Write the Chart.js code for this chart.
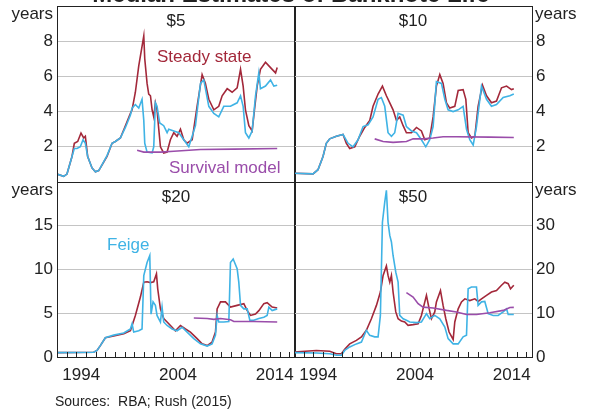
<!DOCTYPE html>
<html>
<head>
<meta charset="utf-8">
<script src="https://cdn.jsdelivr.net/npm/chart.js@4.4.1/dist/chart.umd.min.js"></script>
<style>
  html, body { margin: 0; padding: 0; background: #fff; }
  #wrap { position: relative; width: 589px; height: 413px; overflow: hidden; }
  canvas { position: absolute; left: 0; top: 0; }
  .txt { position: absolute; font-family: "Liberation Sans", Arial, sans-serif; color: #222; white-space: nowrap; }
  #title { left: 0; width: 582px; top: -18px; text-align: center; font-weight: bold; font-size: 24px; line-height: 24px; }
  #sources { left: 55px; top: 394px; font-size: 14px; line-height: 14px; }
</style>
</head>
<body>
<div id="wrap">
  <canvas id="c5" width="589" height="413"></canvas>
  <canvas id="c10" width="589" height="413"></canvas>
  <canvas id="c20" width="589" height="413"></canvas>
  <canvas id="c50" width="589" height="413"></canvas>
  <div class="txt" id="title">Median Estimates of Banknote Life</div>
  <div class="txt" id="sources">Sources:&nbsp;&nbsp;RBA; Rush (2015)</div>
</div>
<script>
// series: [year, years of life]
const steady5 = [
  [1992.00,0.45],[1992.69,0.32],[1993.03,0.45],[1993.55,1.45],[1993.79,2.2],[1994.14,2.3],[1994.48,2.78],[1994.76,2.5],
  [1994.93,2.6],[1995.17,1.45],[1995.62,0.8],[1995.97,0.58],[1996.31,0.65],[1996.48,0.8],[1997.17,1.45],[1997.69,2.2],
  [1998.03,2.3],[1998.55,2.5],[1999.07,3.2],[1999.59,3.9],[1999.76,4.1],[2000.10,5.1],[2000.45,6.6],[2000.79,7.7],
  [2000.97,8.3],[2001.07,7.0],[2001.31,5.6],[2001.48,5.0],[2001.66,4.9],[2001.83,4.1],[2002.00,3.7],[2002.17,4.5],
  [2002.34,4.1],[2002.52,3.0],[2002.69,2.0],[2003.03,1.65],[2003.38,1.7],[2003.72,2.4],[2004.07,2.8],[2004.41,2.6],
  [2004.76,3.0],[2005.10,2.4],[2005.45,2.2],[2005.97,2.4],[2006.48,4.3],[2007.00,6.1],[2007.34,5.6],[2007.69,4.7],
  [2008.21,4.1],[2008.72,4.3],[2009.07,4.9],[2009.59,5.3],[2010.10,5.1],[2010.62,5.35],[2010.97,6.4],[2011.24,5.45],
  [2011.48,4.1],[2011.83,3.2],[2012.17,2.9],[2012.41,4.1],[2012.69,5.45],[2013.03,6.4],[2013.55,6.8],[2013.90,6.6],
  [2014.24,6.4],[2014.59,6.2],[2014.76,6.5]
];
const feige5 = [
  [1992.00,0.45],[1992.69,0.32],[1993.03,0.45],[1993.55,1.45],[1993.79,1.9],[1994.07,1.9],[1994.41,2.0],[1994.69,2.4],
  [1994.93,2.2],[1995.17,1.45],[1995.62,0.8],[1995.97,0.58],[1996.31,0.65],[1996.48,0.8],[1997.17,1.5],[1997.69,2.2],
  [1998.03,2.3],[1998.55,2.5],[1999.07,3.1],[1999.59,3.8],[1999.76,4.2],[2000.10,4.4],[2000.45,4.2],[2000.79,4.7],
  [2000.97,3.5],[2001.07,2.2],[2001.31,1.7],[2001.83,1.65],[2002.00,2.0],[2002.17,4.5],[2002.34,4.3],[2002.62,3.35],
  [2003.03,3.2],[2003.38,2.8],[2003.55,3.0],[2004.07,2.9],[2004.59,2.8],[2005.10,2.4],[2005.62,2.0],[2005.97,2.6],
  [2006.31,3.2],[2006.83,5.6],[2007.17,5.8],[2007.69,4.3],[2008.21,3.9],[2008.72,3.7],[2009.24,4.3],[2009.93,4.3],
  [2010.62,4.5],[2010.97,4.9],[2011.24,4.3],[2011.48,2.8],[2011.83,2.5],[2012.17,2.9],[2012.52,4.9],[2012.86,6.2],
  [2013.03,5.3],[2013.55,5.45],[2014.07,5.8],[2014.41,5.45],[2014.76,5.5]
];
const survival5 = [[2000.28,1.8],[2000.97,1.7],[2002.69,1.7],[2004.07,1.75],[2006.83,1.85],[2010.28,1.87],[2014.76,1.9]];

const steady10 = [
  [1992.00,0.5],[1993.97,0.46],[1994.48,0.7],[1995.00,1.45],[1995.34,2.2],[1995.69,2.45],[1996.38,2.6],[1997.07,2.7],
  [1997.41,2.2],[1997.76,1.9],[1998.28,2.0],[1998.79,2.6],[1999.31,3.1],[1999.83,3.5],[2000.17,4.3],[2000.69,5.0],
  [2001.14,5.45],[2001.55,4.9],[2001.90,4.5],[2002.24,4.1],[2002.59,3.5],[2002.93,3.7],[2003.28,3.2],[2003.62,2.8],
  [2004.14,2.8],[2004.66,3.1],[2005.17,2.9],[2005.52,2.4],[2006.03,2.5],[2006.38,3.7],[2006.72,5.45],[2007.07,6.1],
  [2007.41,5.6],[2007.76,4.5],[2008.10,4.2],[2008.62,4.3],[2008.97,5.2],[2009.48,5.25],[2009.76,4.7],[2010.00,2.8],
  [2010.34,2.5],[2010.69,2.6],[2011.03,4.3],[2011.48,5.5],[2011.90,4.9],[2012.41,4.5],[2012.93,4.6],[2013.45,5.35],
  [2013.97,5.45],[2014.48,5.25],[2014.72,5.3]
];
const feige10 = [
  [1992.00,0.5],[1993.97,0.46],[1994.48,0.7],[1995.00,1.45],[1995.34,2.2],[1995.69,2.45],[1996.38,2.6],[1997.07,2.7],
  [1997.59,2.2],[1998.10,2.0],[1998.62,2.4],[1999.14,3.15],[1999.66,3.25],[2000.17,3.7],[2000.69,4.7],[2001.03,4.8],
  [2001.38,4.3],[2001.72,2.8],[2002.07,2.6],[2002.41,2.8],[2002.76,3.9],[2003.28,3.8],[2003.62,3.15],[2004.14,2.9],
  [2004.66,2.8],[2005.17,2.4],[2005.62,2.0],[2006.03,2.4],[2006.38,3.15],[2006.72,5.7],[2007.24,5.6],[2007.59,4.7],
  [2007.93,4.1],[2008.45,4.0],[2008.97,4.1],[2009.48,4.3],[2009.83,3.0],[2010.17,2.4],[2010.52,2.1],[2010.86,3.15],
  [2011.38,5.45],[2011.90,4.7],[2012.41,4.3],[2012.93,4.4],[2013.62,4.8],[2014.31,4.9],[2014.72,5.0]
];
const survival10 = [
  [2000.34,2.45],[2001.21,2.3],[2002.24,2.25],[2003.62,2.3],[2004.31,2.45],[2005.34,2.45],[2006.38,2.5],
  [2007.41,2.57],[2008.79,2.57],[2012.24,2.55],[2014.72,2.53]
];

const steady20 = [
  [1992.00,0.5],[1995.79,0.55],[1996.14,0.75],[1996.48,1.3],[1997.00,2.2],[1997.86,2.4],[1998.90,2.65],[1999.59,3.0],
  [2000.10,4.75],[2000.62,6.85],[2000.97,8.55],[2001.31,8.6],[2001.66,8.5],[2002.00,8.6],[2002.28,9.5],[2002.41,7.8],
  [2002.69,5.5],[2003.03,4.4],[2003.38,4.0],[2003.90,3.4],[2004.24,3.0],[2004.76,3.6],[2005.28,3.2],[2005.79,2.85],
  [2006.48,2.1],[2007.00,1.5],[2007.52,1.3],[2008.03,1.7],[2008.38,2.85],[2008.55,5.5],[2008.90,6.3],[2009.41,6.3],
  [2009.93,5.7],[2010.62,5.9],[2011.31,6.1],[2011.66,5.3],[2012.00,4.75],[2012.52,4.9],[2012.86,5.3],[2013.38,6.1],
  [2013.72,6.2],[2014.24,5.7],[2014.76,5.6]
];
const feige20 = [
  [1992.00,0.5],[1995.79,0.55],[1996.14,0.75],[1996.48,1.3],[1997.00,2.2],[1997.86,2.5],[1998.90,2.75],[1999.59,3.2],
  [1999.76,3.8],[1999.93,2.85],[2000.45,3.0],[2000.79,3.2],[2000.97,9.3],[2001.31,10.8],[2001.59,11.6],[2001.72,4.9],
  [2001.93,6.3],[2002.17,5.9],[2002.34,4.75],[2002.69,4.0],[2002.86,5.7],[2003.03,4.0],[2003.38,3.6],[2003.90,3.2],
  [2004.41,3.0],[2004.93,3.4],[2005.45,2.85],[2006.14,2.1],[2006.83,1.5],[2007.52,1.25],[2008.03,1.5],[2008.38,2.5],
  [2008.55,4.75],[2008.72,4.0],[2009.24,4.0],[2009.76,4.05],[2009.93,10.8],[2010.21,11.2],[2010.62,10.1],[2010.79,8.55],
  [2010.97,5.9],[2011.31,5.5],[2011.66,5.5],[2011.93,4.2],[2012.34,4.2],[2012.86,4.4],[2013.38,4.55],[2013.72,4.75],
  [2013.90,5.7],[2014.24,5.3],[2014.76,5.5]
];
const survival20 = [[2006.14,4.45],[2007.52,4.4],[2008.21,4.3],[2008.90,4.4],[2009.93,4.25],[2010.28,4.05],[2012.34,4.05],[2014.76,4.0]];

const steady50 = [
  [1992.00,1.15],[1994.31,1.5],[1995.69,1.3],[1996.38,0.75],[1996.90,0.75],[1997.24,1.75],[1997.76,3.0],[1998.45,3.8],
  [1998.97,4.6],[1999.48,6.1],[2000.00,8.75],[2000.52,11.8],[2000.93,14.85],[2001.21,18.65],[2001.55,20.8],[2001.72,18.65],
  [2001.90,17.1],[2002.07,18.65],[2002.24,14.85],[2002.52,10.3],[2002.76,8.75],[2003.10,8.2],[2003.45,8.0],[2003.79,7.25],
  [2004.31,7.4],[2004.83,7.6],[2005.17,9.5],[2005.69,14.1],[2005.97,11.0],[2006.21,8.75],[2006.55,10.3],[2006.72,12.6],
  [2007.14,15.2],[2007.41,11.8],[2007.69,8.75],[2008.03,5.7],[2008.45,4.0],[2008.62,8.0],[2008.97,11.0],[2009.31,12.6],
  [2009.66,13.3],[2010.17,12.9],[2010.69,13.3],[2011.03,12.7],[2011.38,13.3],[2011.90,14.1],[2012.41,14.85],[2012.93,15.2],
  [2013.45,16.4],[2013.79,17.1],[2014.14,16.75],[2014.38,15.6],[2014.72,16.4]
];
const feige50 = [
  [1992.00,1.0],[1994.31,0.9],[1995.69,0.75],[1996.38,0.4],[1996.90,0.4],[1997.24,1.5],[1997.76,2.3],[1998.45,3.0],
  [1998.97,3.4],[1999.48,6.1],[1999.83,4.95],[2000.34,4.6],[2000.69,4.6],[2000.93,9.5],[2001.14,30.8],[2001.38,35.4],
  [2001.55,38.1],[2001.72,30.8],[2001.90,27.8],[2002.07,26.3],[2002.24,23.2],[2002.52,19.4],[2002.76,17.1],[2002.93,9.5],
  [2003.28,8.75],[2003.62,8.4],[2003.97,8.0],[2004.66,7.85],[2005.17,8.0],[2005.69,9.9],[2006.03,8.75],[2006.55,9.5],
  [2007.07,8.75],[2007.59,6.85],[2007.93,4.2],[2008.45,3.0],[2008.97,3.0],[2009.48,4.6],[2009.83,4.95],[2010.00,15.6],
  [2010.34,16.0],[2010.86,16.0],[2011.03,11.8],[2011.38,12.6],[2011.72,12.7],[2012.07,9.9],[2012.59,9.5],[2013.10,9.5],
  [2013.62,10.3],[2013.97,11.0],[2014.14,9.7],[2014.72,9.7]
];
const survival50 = [
  [2003.62,14.7],[2004.31,13.7],[2004.83,12.2],[2005.34,11.4],[2006.38,11.2],[2007.76,10.65],[2008.79,10.3],
  [2009.83,9.7],[2010.86,9.7],[2012.24,10.1],[2013.62,10.65],[2014.31,11.3],[2014.72,11.35]
];

const labelYears = [1994, 2004, 2014];
const tickYears = [1993, 1994, 1995, 1996, 1997, 1998, 1999, 2000, 2001, 2002, 2003, 2004,
                   2005, 2006, 2007, 2008, 2009, 2010, 2011, 2012, 2013, 2014, 2015, 2016];
const xMin = 1992, xMax = 2016.6;

const colSteady = '#a3283a';
const colFeige = '#3fb3e5';
const colSurvival = '#9a4daa';
const FONT = '"Liberation Sans", Arial, sans-serif';

Chart.defaults.font.family = FONT;
Chart.defaults.font.size = 17;
Chart.defaults.color = '#222';

const toXY = arr => arr.map(p => ({ x: p[0], y: p[1] }));

const panelDecor = {
  id: 'panelDecor',
  afterDatasetsDraw(chart) {
    const o = chart.config.options.panel;
    const { ctx, chartArea: a } = chart;
    ctx.save();
    // inside year ticks on the bottom row
    if (o.row === 'bottom') {
      const xs = chart.scales.x;
      ctx.strokeStyle = '#222';
      ctx.lineWidth = 1;
      ctx.beginPath();
      tickYears.forEach(y => {
        const px = Math.round(xs.getPixelForValue(y)) + 0.5;
        ctx.moveTo(px, a.bottom);
        ctx.lineTo(px, a.bottom - 5);
      });
      ctx.stroke();
    }
    // frame
    ctx.strokeStyle = '#222';
    ctx.lineWidth = 1;
    ctx.strokeRect(a.left + 0.5, a.top + 0.5, a.right - a.left, a.bottom - a.top);
    ctx.font = '17px ' + FONT;
    ctx.textBaseline = 'middle';
    // panel title
    ctx.fillStyle = '#222';
    ctx.textAlign = 'center';
    ctx.fillText(o.title, (a.left + a.right) / 2, a.top + 15);
    // unit label
    if (o.side === 'left') {
      ctx.textAlign = 'right';
      ctx.fillText('years', a.left - 4, a.top + 8);
    } else {
      ctx.textAlign = 'left';
      ctx.fillText('years', a.right + 3, a.top + 8);
    }
    // series notes
    ctx.textAlign = 'left';
    (o.notes || []).forEach(n => {
      ctx.fillStyle = n.color;
      ctx.fillText(n.text, n.x, n.y);
    });
    ctx.restore();
  }
};

function makePanel(id, steady, feige, survival, yMax, yStep, side, row, title, notes) {
  const yTicks = [];
  for (let v = 0; v <= yMax; v += yStep) yTicks.push(v);
  const padding = {
    left: side === 'left' ? 0 : 294,
    right: side === 'left' ? 294 : 0,
    top: row === 'top' ? 6 : 182,
    bottom: row === 'top' ? 231 : 16
  };
  const line = (data, color) => ({
    data: toXY(data), borderColor: color, borderWidth: 1.6,
    pointRadius: 0, tension: 0, fill: false
  });
  new Chart(document.getElementById(id), {
    type: 'line',
    data: {
      datasets: [
        line(survival, colSurvival),
        line(feige, colFeige),
        line(steady, colSteady)
      ]
    },
    options: {
      responsive: false,
      animation: false,
      devicePixelRatio: 1,
      layout: { padding: padding, autoPadding: false },
      plugins: { legend: { display: false }, tooltip: { enabled: false } },
      panel: { side: side, row: row, title: title, notes: notes },
      scales: {
        x: {
          type: 'linear', min: xMin, max: xMax,
          display: row === 'bottom',
          grid: { display: false, drawTicks: false },
          border: { display: false },
          afterBuildTicks: s => { s.ticks = labelYears.map(y => ({ value: y + 0.5 })); },
          afterFit: s => {
            s.height = row === 'bottom' ? 40 : 0;
            s.paddingLeft = 0; s.paddingRight = 0;
          },
          ticks: {
            autoSkip: false, maxRotation: 0, padding: 8,
            callback: v => String(Math.floor(v))
          }
        },
        y: {
          position: side, min: 0, max: yMax,
          afterBuildTicks: s => { s.ticks = yTicks.map(v => ({ value: v })); },
          afterFit: s => {
            s.width = 57;
            s.paddingTop = 0; s.paddingBottom = 0;
          },
          border: { display: false },
          grid: {
            drawTicks: false,
            color: c => (c.tick.value === 0 || c.tick.value === yMax) ? 'rgba(0,0,0,0)' : '#c4c4c4'
          },
          ticks: {
            padding: 4,
            callback: v => (v === yMax || (row === 'top' && v === 0)) ? '' : String(v)
          }
        }
      }
    },
    plugins: [panelDecor]
  });
}

makePanel('c5', steady5, feige5, survival5, 10, 2, 'left', 'top', '$5', [
  { text: 'Steady state', color: colSteady, x: 157, y: 57 },
  { text: 'Survival model', color: colSurvival, x: 169, y: 168 }
]);
makePanel('c10', steady10, feige10, survival10, 10, 2, 'right', 'top', '$10', []);
makePanel('c20', steady20, feige20, survival20, 20, 5, 'left', 'bottom', '$20', [
  { text: 'Feige', color: colFeige, x: 107, y: 245 }
]);
makePanel('c50', steady50, feige50, survival50, 40, 10, 'right', 'bottom', '$50', []);
</script>
</body>
</html>
